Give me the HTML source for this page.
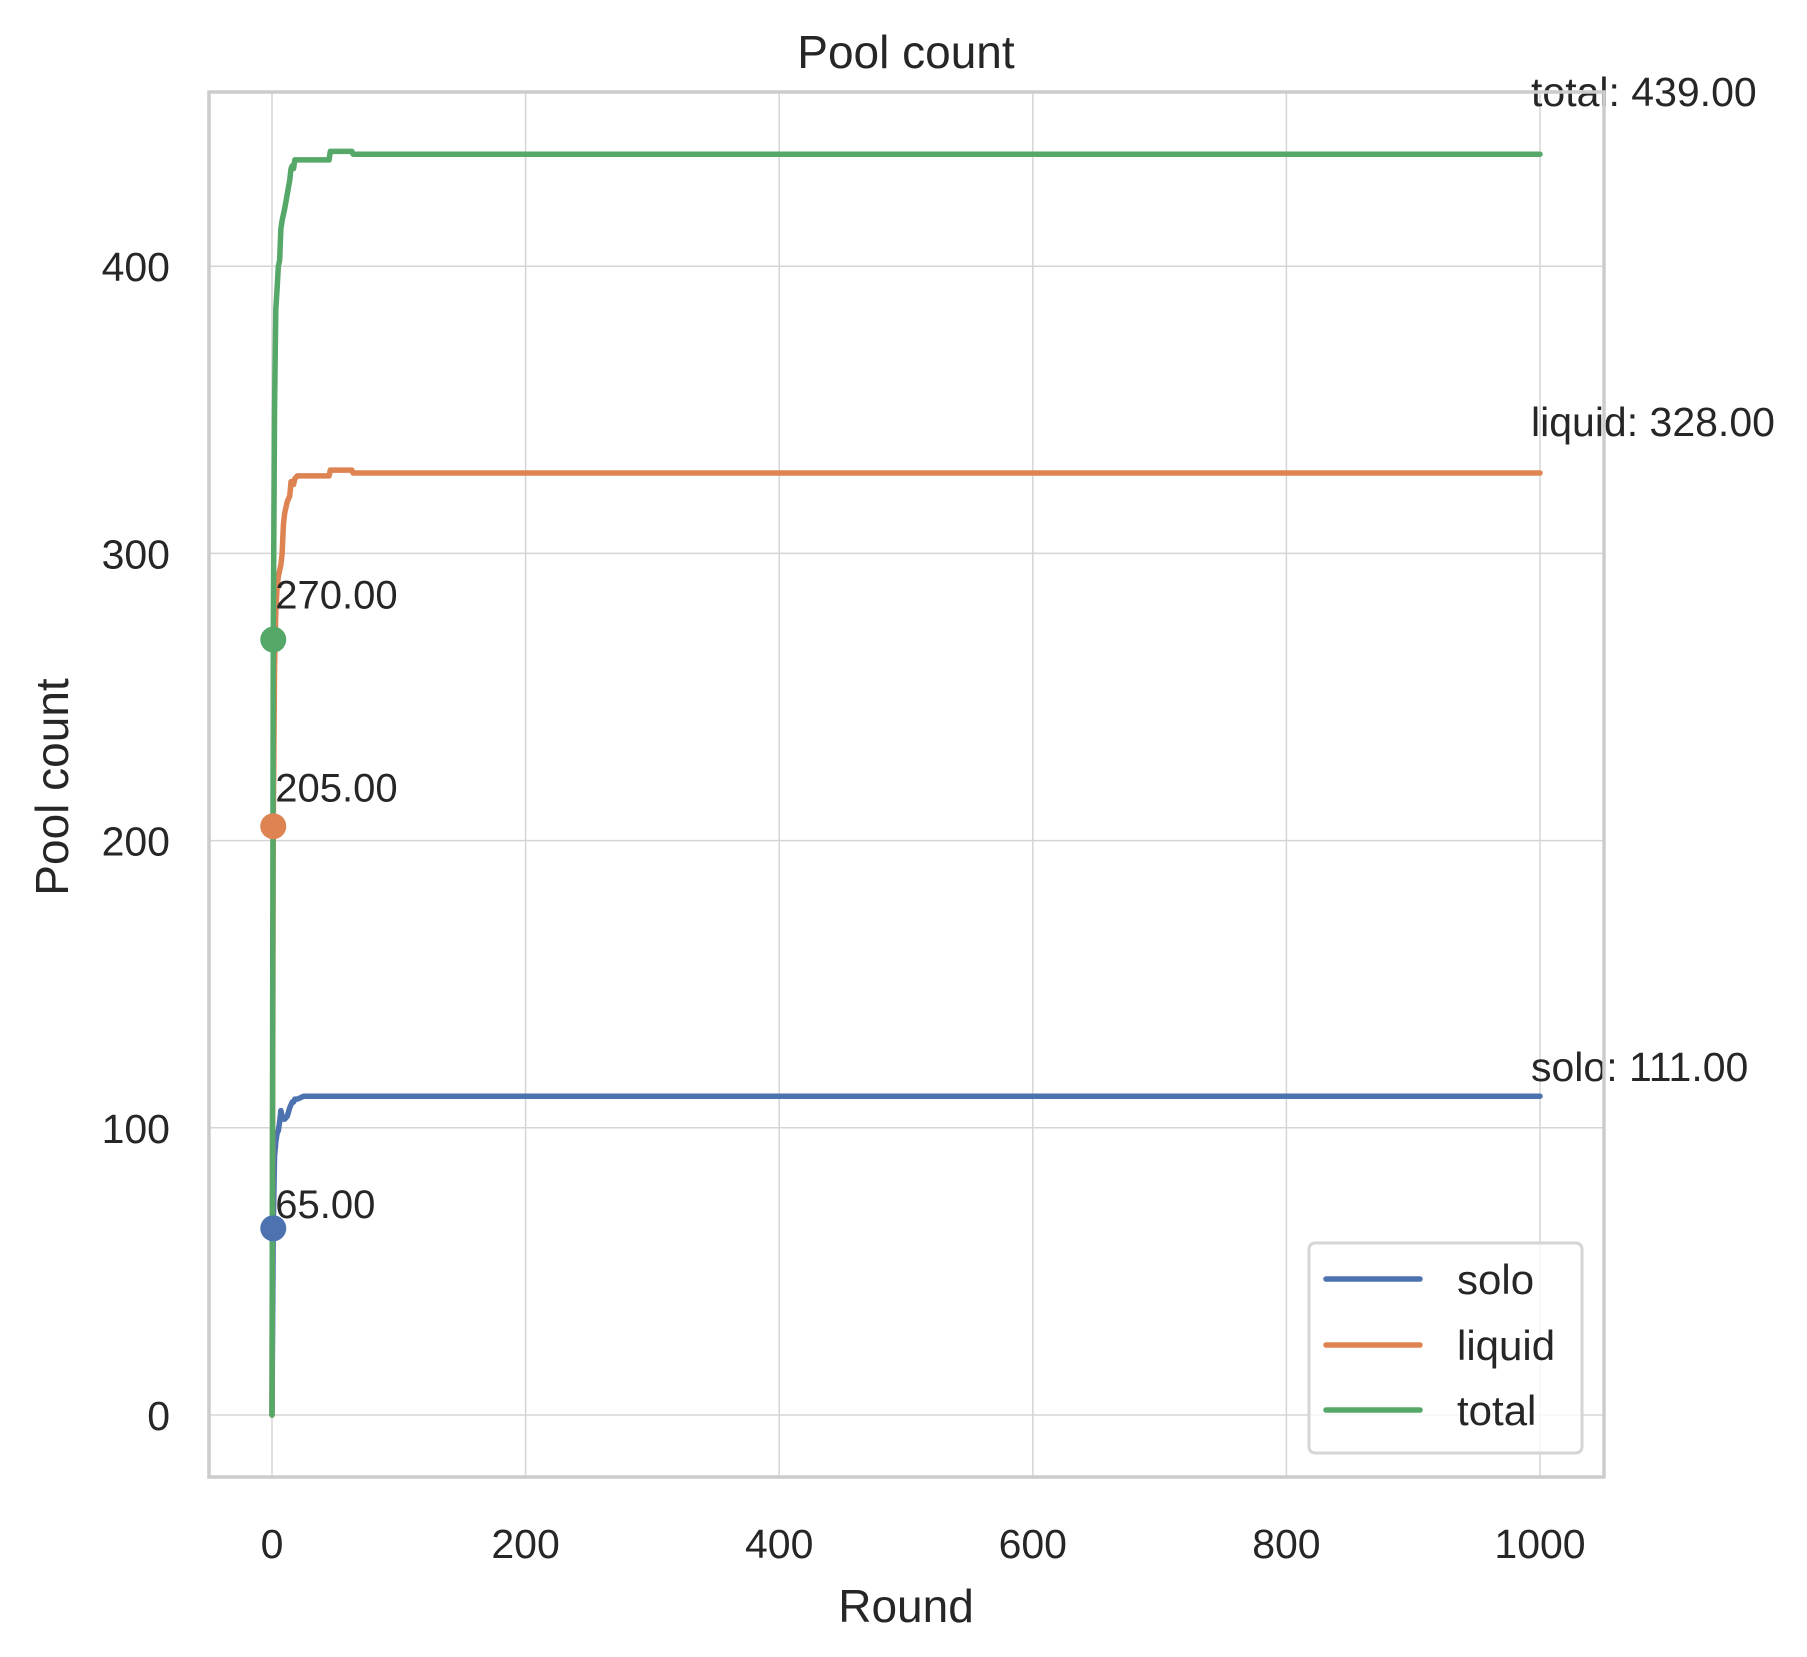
<!DOCTYPE html>
<html><head><meta charset="utf-8"><style>
body{margin:0;background:#fff}
text{font-family:"Liberation Sans",Arial,sans-serif;fill:#262626}
</style></head><body>
<svg id="chart" width="1807" height="1652" viewBox="0 0 1807 1652" xmlns="http://www.w3.org/2000/svg">
<rect width="1807" height="1652" fill="#fff"/>
<g id="grid"></g>
<g id="series"></g>
<rect x="209" y="92" width="1395" height="1385" fill="none" stroke="#cccccc" stroke-width="3.5"/>
<g id="ticks"></g>
<text x="906" y="68" font-size="46" text-anchor="middle">Pool count</text>
<text x="906" y="1622" font-size="46" text-anchor="middle">Round</text>
<text transform="translate(68,787) rotate(-90)" font-size="46" text-anchor="middle">Pool count</text>
<g>
<rect x="1309" y="1243" width="273" height="210" rx="6" fill="#fff" fill-opacity="0.8" stroke="#d5d5d5" stroke-width="3"/>
<line x1="1326" y1="1279" x2="1420" y2="1279" stroke="#4c72b0" stroke-width="5.5" stroke-linecap="round"/>
<text x="1457" y="1294" font-size="42">solo</text>
<line x1="1326" y1="1345" x2="1420" y2="1345" stroke="#dd8452" stroke-width="5.5" stroke-linecap="round"/>
<text x="1457" y="1360" font-size="42">liquid</text>
<line x1="1326" y1="1410" x2="1420" y2="1410" stroke="#55a868" stroke-width="5.5" stroke-linecap="round"/>
<text x="1457" y="1425" font-size="42">total</text>
</g>
</svg>
<script>
const rounds = [0,1,2,3,4,5,6,7,8,9,10,12,14,15,16,17,18,20,25,45,46,63,64,1000];
const solo   = [0,65,90,95,98,99,102,106,104,103,103,104,107,108,109,109,110,110,111,111,111,111,111,111];
const liquid = [0,205,260,280,288,292,294,296,300,310,314,318,320,325,325,324,326,327,327,327,329,329,328,328];
const total  = [0,270,350,385,392,400,402,413,416,418,420,425,430,434,435,434,437,437,437,437,440,440,439,439];
const seriesNames = ["solo","liquid","total"];
const colors = ["#4c72b0","#dd8452","#55a868"];
const xTicks = [0,200,400,600,800,1000];
const yTicks = [0,100,200,300,400];
const markIndex = 1;

const NS="http://www.w3.org/2000/svg";
const X0=272, XS=1.268, Y0=1415, YS=2.872;
const xs=v=>X0+v*XS, ys=v=>Y0-v*YS;
function mk(tag,attrs,parent){const e=document.createElementNS(NS,tag);for(const k in attrs)e.setAttribute(k,attrs[k]);parent.appendChild(e);return e;}
const grid=document.getElementById('grid'), ticks=document.getElementById('ticks'), ser=document.getElementById('series');
xTicks.forEach(t=>{
  const l=mk('line',{x1:xs(t),x2:xs(t),y1:92,y2:1477,stroke:'#d5d5d5','stroke-width':1.5},grid);
  
  
  const tx=mk('text',{x:xs(t),y:1558,'font-size':41,'text-anchor':'middle'},ticks);
  tx.textContent=t;
  
  
});
yTicks.forEach(t=>{
  const l=mk('line',{x1:209,x2:1604,y1:ys(t),y2:ys(t),stroke:'#d5d5d5','stroke-width':1.5},grid);
  
  
  const tx=mk('text',{x:170,y:ys(t)+15,'font-size':41,'text-anchor':'end'},ticks);
  tx.textContent=t;
  
  
});
[solo,liquid,total].forEach((vals,i)=>{
  const pts=rounds.map((r,j)=>xs(r)+','+ys(vals[j])).join(' ');
  const p=mk('polyline',{points:pts,fill:'none',stroke:colors[i],'stroke-width':5.5,'stroke-linejoin':'round','stroke-linecap':'round'},ser);
  
  
});
[solo,liquid,total].forEach((vals,i)=>{
  const v=vals[markIndex];
  const c=mk('circle',{cx:xs(rounds[markIndex]),cy:ys(v),r:13,fill:colors[i]},ser);
  
  
  const t=mk('text',{x:xs(rounds[markIndex])+2,y:ys(v*1.035)-4,'font-size':40},ser);
  t.textContent=v.toFixed(2);
  
  
  const last=vals[vals.length-1];
  const e=mk('text',{x:xs(rounds[rounds.length-1])-9,y:ys(last*1.035)-4,'font-size':41},ser);
  e.textContent=seriesNames[i]+': '+last.toFixed(2);
  
  
});
</script>
</body></html>
